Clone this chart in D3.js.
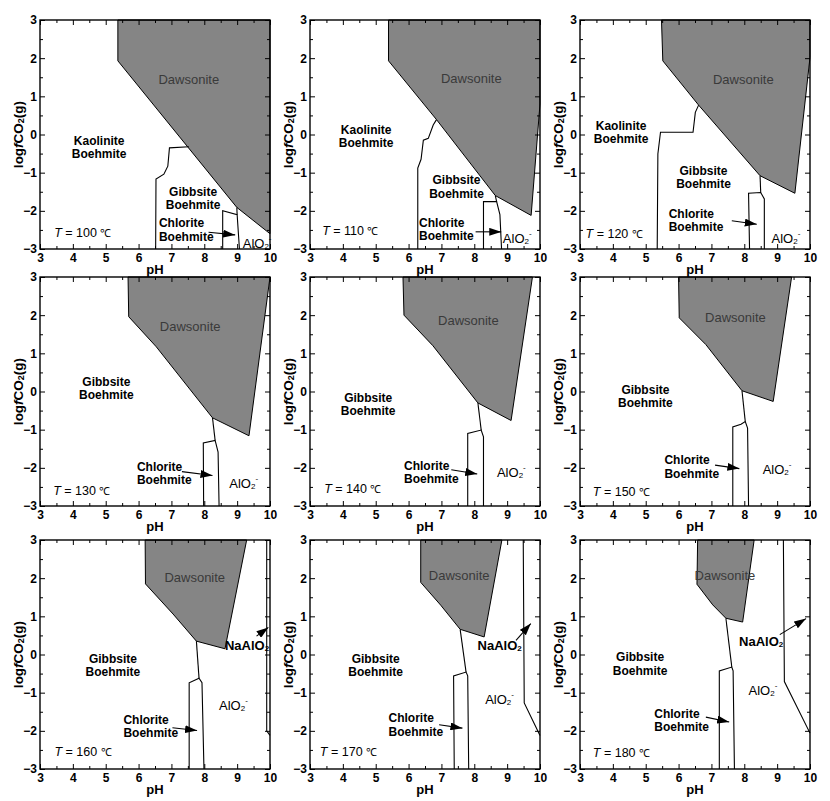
<!DOCTYPE html>
<html>
<head>
<meta charset="utf-8">
<script src="https://cdn.jsdelivr.net/npm/d3@7"></script>
<style>
body { margin: 0; background: #fff; }
svg text { font-family: "Liberation Sans", Arial, sans-serif; }
</style>
</head>
<body>
<div id="vis"></div>
<script>
// temperatures of the nine panels (row by row)
const temps = [100, 110, 120, 130, 140, 150, 160, 170, 180];
const xTicks = [3, 4, 5, 6, 7, 8, 9, 10];
const yTicks = [-3, -2, -1, 0, 1, 2, 3];

// Dawsonite stability field, [pH, log fCO2]
const dawsonite = [
    [[5.37, 3], [5.37, 1.93], [8.99, -1.91], [10, -2.6], [10, 3]],
    [[5.39, 3], [5.39, 1.93], [6.85, 0.39], [8.64, -1.6], [9.73, -2.12], [10, 0.8], [10, 3]],
    [[5.48, 3], [5.52, 1.93], [6.61, 0.77], [8.48, -1.08], [9.54, -1.54], [10, 2.02], [10, 3]],
    [[5.68, 3], [5.7, 1.96], [6.54, 1.17], [8.25, -0.69], [9.36, -1.16], [10, 3]],
    [[5.83, 3], [5.86, 2.0], [6.74, 1.2], [8.11, -0.3], [9.12, -0.76], [9.77, 3]],
    [[6.0, 3], [6.02, 1.93], [6.83, 1.23], [7.93, 0.02], [8.88, -0.26], [9.44, 3]],
    [[6.2, 3], [6.21, 1.85], [7.05, 1.06], [7.76, 0.35], [8.63, 0.15], [9.29, 3]],
    [[6.37, 3], [6.37, 1.89], [6.98, 1.29], [7.57, 0.66], [8.3, 0.46], [8.84, 3]],
    [[6.58, 3], [6.56, 1.84], [7.04, 1.3], [7.44, 0.95], [7.95, 0.85], [8.3, 3]]
];

// Kaolinite / Gibbsite boundary (only 100-120 C)
const kaolinite = [
    [[6.52, -3], [6.53, -1.17], [6.77, -1.04], [6.89, -0.83], [6.94, -0.35], [7.53, -0.32]],
    [[6.28, -3], [6.28, -0.88], [6.38, -0.65], [6.45, -0.15], [6.6, -0.1], [6.75, 0.25], [6.85, 0.39]],
    [[5.35, -3], [5.37, -0.51], [5.45, 0.06], [6.44, 0.06], [6.51, 0.58], [6.61, 0.77]],
    null, null, null, null, null, null
];

// Gibbsite / AlO2- boundary below the Dawsonite corner
const gibbsite = [
    [[8.99, -1.91], [9.0, -2.1]],
    [[8.64, -1.6], [8.68, -1.76]],
    [[8.48, -1.08], [8.5, -1.52]],
    [[8.25, -0.69], [8.33, -1.28]],
    [[8.11, -0.3], [8.21, -1.01]],
    [[7.93, 0.02], [8.03, -0.79]],
    [[7.76, 0.35], [7.84, -0.62]],
    [[7.57, 0.66], [7.75, -0.46]],
    [[7.44, 0.95], [7.62, -0.33]]
];

// Chlorite field outline
const chlorite = [
    [[8.56, -3], [8.56, -2.0], [9.0, -2.1], [9.07, -3]],
    [[8.28, -3], [8.28, -1.76], [8.68, -1.76], [8.78, -2.1], [8.83, -3]],
    [[8.16, -3], [8.13, -1.54], [8.5, -1.52], [8.61, -1.69], [8.61, -3]],
    [[7.98, -3], [7.97, -1.35], [8.33, -1.28], [8.42, -1.59], [8.45, -3]],
    [[7.8, -3], [7.8, -1.1], [8.21, -1.01], [8.28, -1.19], [8.28, -3]],
    [[7.65, -3], [7.65, -0.93], [7.9, -0.86], [8.03, -0.79], [8.1, -0.96], [8.13, -3]],
    [[7.54, -3], [7.54, -0.74], [7.84, -0.62], [7.93, -0.74], [7.99, -3]],
    [[7.39, -3], [7.37, -0.56], [7.75, -0.46], [7.8, -0.56], [7.83, -3]],
    [[7.24, -3], [7.24, -0.43], [7.62, -0.33], [7.66, -0.43], [7.7, -3]]
];

// NaAlO2 / AlO2- boundary (160-180 C)
const naalo2 = [
    null, null, null, null, null, null,
    [[9.9, 3], [9.9, -2.0], [10, -2.12]],
    [[9.49, 3], [9.52, -1.27], [10, -2.12]],
    [[9.19, 3], [9.22, -0.71], [10, -2.06]]
];

// label anchors in data units
const dawLabel = [[7.53, 1.43], [7.91, 1.46], [7.97, 1.43], [7.57, 1.7], [7.82, 1.87],
    [7.73, 1.93], [7.71, 2.02], [7.54, 2.06], [7.41, 2.06]];
const upperName = ["Kaolinite", "Kaolinite", "Kaolinite", "Gibbsite", "Gibbsite",
    "Gibbsite", "Gibbsite", "Gibbsite", "Gibbsite"];
const upperLabel = [[4.8, -0.17], [4.71, 0.12], [4.25, 0.23], [5.02, 0.25], [4.77, -0.17],
    [4.99, 0.04], [5.22, -0.11], [5.0, -0.11], [4.83, -0.07]];
const midLabel = [[7.66, -1.5], [7.46, -1.2], [6.76, -0.95], null, null, null, null, null, null];
const chlLabel = [[6.62, -2.32], [6.32, -2.31], [5.7, -2.08], [5.95, -1.97], [5.86, -1.94],
    [5.57, -1.8], [5.54, -1.71], [5.39, -1.67], [5.26, -1.55]];
const chlArrow = [
    [[8.13, -2.56], [8.94, -2.63]],
    [[8.04, -2.55], [8.82, -2.55]],
    [[7.62, -2.26], [8.38, -2.35]],
    [[7.32, -2.1], [8.25, -2.2]],
    [[7.3, -2.05], [8.09, -2.16]],
    [[7.11, -1.93], [7.85, -2.02]],
    [[7.03, -1.92], [7.78, -1.99]],
    [[6.93, -1.84], [7.64, -1.93]],
    [[6.83, -1.64], [7.54, -1.77]]
];
const aloLabel = [[9.17, -2.84], [8.87, -2.72], [8.83, -2.71], [8.76, -2.4], [8.69, -2.12],
    [8.56, -2.04], [8.45, -1.32], [8.33, -1.16], [8.13, -0.92]];
const naLabel = [null, null, null, null, null, null, [8.63, 0.24], [8.1, 0.24], [7.84, 0.36]];
const naArrow = [
    null, null, null, null, null, null,
    [[9.59, 0.48], [9.95, 0.71]],
    [[9.27, 0.37], [9.72, 0.81]],
    [[9.08, 0.52], [9.88, 0.94]]
];
const tLabel = [[3.43, -2.57], [3.37, -2.54], [3.17, -2.61], [3.4, -2.62], [3.43, -2.56],
    [3.39, -2.63], [3.44, -2.55], [3.3, -2.56], [3.39, -2.59]];

// layout
const COLS = [40, 310, 580];
const ROWS = [20, 277, 540];
const W = 230;
const H = 229;
const FONT = "Liberation Sans, Arial, sans-serif";

const svg = d3.select("#vis")
    .append("svg")
    .attr("width", 830)
    .attr("height", 801);

svg.append("defs")
    .append("marker")
    .attr("id", "arrow")
    .attr("viewBox", "0 0 12 8")
    .attr("refX", 12)
    .attr("refY", 4)
    .attr("markerWidth", 12)
    .attr("markerHeight", 8)
    .attr("markerUnits", "userSpaceOnUse")
    .attr("orient", "auto")
    .append("path")
    .attr("d", "M0,0L12,4L0,8Z")
    .attr("fill", "#000");

const X = d3.scaleLinear().domain([3, 10]).range([0, W]);
const Y = d3.scaleLinear().domain([-3, 3]).range([H, 0]);
const line = d3.line().x(d => X(d[0])).y(d => Y(d[1]));

const xHalf = d3.range(3.5, 10, 1);
const yHalf = d3.range(-2.5, 3, 1);

function styleAxis(g) {
    g.select(".domain").remove();
    g.attr("font-family", FONT).attr("font-size", 12).attr("font-weight", "bold");
    g.selectAll("line").attr("stroke-width", 1);
}

function twoLines(g, pos, first, anchor) {
    const t = g.append("text")
        .attr("x", X(pos[0]))
        .attr("y", Y(pos[1]))
        .attr("text-anchor", anchor)
        .attr("dominant-baseline", "central")
        .attr("font-size", 12)
        .attr("font-weight", "bold");
    t.append("tspan").text(first);
    t.append("tspan").attr("x", X(pos[0])).attr("dy", 13.5).text("Boehmite");
}

function chem(g, pos, prefix, bold) {
    const t = g.append("text")
        .attr("x", X(pos[0]))
        .attr("y", Y(pos[1]))
        .attr("dominant-baseline", "central")
        .attr("font-size", 13)
        .attr("font-weight", bold ? "bold" : "normal");
    t.append("tspan").text(prefix + "AlO");
    t.append("tspan").attr("font-size", 8).attr("dy", 3).text("2");
    if (!bold) t.append("tspan").attr("font-size", 8).attr("dy", -8).text("-");
}

temps.forEach((temp, i) => {
    const g = svg.append("g")
        .attr("transform", "translate(" + COLS[i % 3] + "," + ROWS[Math.floor(i / 3)] + ")")
        .attr("font-family", FONT);

    // Dawsonite field
    g.append("path")
        .attr("d", line(dawsonite[i]) + "Z")
        .attr("fill", "#858585")
        .attr("stroke", "#000")
        .attr("stroke-width", 1);

    // boundaries
    [kaolinite[i], gibbsite[i], chlorite[i], naalo2[i]].forEach(b => {
        if (!b) return;
        g.append("path")
            .attr("d", line(b))
            .attr("fill", "none")
            .attr("stroke", "#000")
            .attr("stroke-width", 1.1);
    });

    // frame
    g.append("rect")
        .attr("width", W)
        .attr("height", H)
        .attr("fill", "none")
        .attr("stroke", "#000")
        .attr("stroke-width", 1.4);

    // axes, ticks inward on every side
    g.append("g")
        .attr("transform", "translate(0," + H + ")")
        .call(d3.axisBottom(X).tickValues(xTicks).tickSize(-5).tickPadding(4).tickFormat(d3.format("d")))
        .call(styleAxis);
    g.append("g")
        .attr("transform", "translate(0," + H + ")")
        .call(d3.axisBottom(X).tickValues(xHalf).tickSize(-3).tickFormat(""))
        .call(styleAxis);
    g.append("g")
        .call(d3.axisTop(X).tickValues(xTicks).tickSize(-5).tickFormat(""))
        .call(styleAxis);
    g.append("g")
        .call(d3.axisTop(X).tickValues(xHalf).tickSize(-3).tickFormat(""))
        .call(styleAxis);
    g.append("g")
        .call(d3.axisLeft(Y).tickValues(yTicks).tickSize(-5).tickPadding(3).tickFormat(d3.format("d")))
        .call(styleAxis);
    g.append("g")
        .call(d3.axisLeft(Y).tickValues(yHalf).tickSize(-3).tickFormat(""))
        .call(styleAxis);
    g.append("g")
        .attr("transform", "translate(" + W + ",0)")
        .call(d3.axisRight(Y).tickValues(yTicks).tickSize(-5).tickFormat(""))
        .call(styleAxis);
    g.append("g")
        .attr("transform", "translate(" + W + ",0)")
        .call(d3.axisRight(Y).tickValues(yHalf).tickSize(-3).tickFormat(""))
        .call(styleAxis);

    // axis titles
    g.append("text")
        .attr("x", W / 2)
        .attr("y", H + 20)
        .attr("text-anchor", "middle")
        .attr("dominant-baseline", "central")
        .attr("font-size", 13)
        .attr("font-weight", "bold")
        .text("pH");

    const yl = g.append("text")
        .attr("transform", "translate(-22," + (H / 2) + ") rotate(-90)")
        .attr("text-anchor", "middle")
        .attr("dominant-baseline", "central")
        .attr("font-size", 13.5)
        .attr("font-weight", "bold");
    yl.append("tspan").text("log");
    yl.append("tspan").attr("font-style", "italic").text("f");
    yl.append("tspan").text("CO");
    yl.append("tspan").attr("font-size", 9).attr("dy", 3).text("2");
    yl.append("tspan").attr("dy", -3).text("(g)");

    // field labels
    g.append("text")
        .attr("x", X(dawLabel[i][0]))
        .attr("y", Y(dawLabel[i][1]))
        .attr("text-anchor", "middle")
        .attr("dominant-baseline", "central")
        .attr("font-size", 13)
        .attr("fill", "#3a3a3a")
        .text("Dawsonite");

    twoLines(g, upperLabel[i], upperName[i], "middle");
    if (midLabel[i]) twoLines(g, midLabel[i], "Gibbsite", "middle");
    twoLines(g, chlLabel[i], "Chlorite", "start");

    g.append("path")
        .attr("d", line(chlArrow[i]))
        .attr("stroke", "#000")
        .attr("stroke-width", 1.1)
        .attr("marker-end", "url(#arrow)");

    chem(g, aloLabel[i], "", false);

    if (naLabel[i]) {
        chem(g, naLabel[i], "Na", true);
        g.append("path")
            .attr("d", line(naArrow[i]))
            .attr("stroke", "#000")
            .attr("stroke-width", 1.1)
            .attr("marker-end", "url(#arrow)");
    }

    const tl = g.append("text")
        .attr("x", X(tLabel[i][0]))
        .attr("y", Y(tLabel[i][1]))
        .attr("dominant-baseline", "central")
        .attr("font-size", 12.5);
    tl.append("tspan").attr("font-style", "italic").text("T");
    tl.append("tspan").text(" = " + temp + "  ");
    tl.append("tspan").attr("font-size", 11).text("\u2103");
});
</script>
</body>
</html>
